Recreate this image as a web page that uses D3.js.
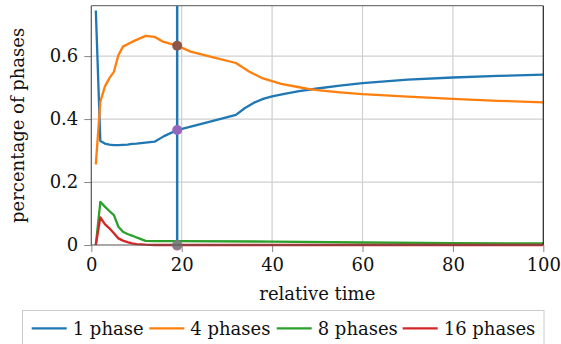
<!DOCTYPE html>
<html>
<head>
<script src="https://d3js.org/d3.v7.min.js"></script>
<meta charset="utf-8">
<style>
body { margin: 0; background: white; }
svg text { font-family: "DejaVu Serif", "Liberation Serif", serif; fill: #111; }
</style>
</head>
<body>
<div id="chart"></div>
<script>

// series
var timeOne = [1,2,3,4,5,6,7,8,9,10,12,14,16,19,22,25,28,32,34,36,38,40,43,46,50,55,60,70,80,90,100];
var valOne  = [0.745,0.33,0.322,0.319,0.317,0.317,0.318,0.319,0.321,0.322,0.325,0.328,0.345,0.365,0.376,0.387,0.398,0.413,0.435,0.452,0.464,0.472,0.481,0.489,0.497,0.506,0.514,0.525,0.532,0.537,0.541];

var timeFour = [1,2,3,4,5,6,7,9,12,14,16,19,22,27,32,35,38,42,46,48,50,55,60,70,80,90,100];
var valFour  = [0.256,0.455,0.503,0.53,0.55,0.603,0.63,0.645,0.664,0.661,0.645,0.633,0.614,0.596,0.578,0.55,0.529,0.512,0.501,0.496,0.492,0.485,0.479,0.471,0.464,0.458,0.453];

var timeEight = [1,2,3,4,5,6,7,8,9,10,12,14,19,40,60,80,100];
var valEight  = [0,0.137,0.122,0.108,0.095,0.058,0.042,0.035,0.03,0.024,0.013,0.012,0.012,0.011,0.008,0.006,0.005];

var timeSixteen = [1,2,3,4,5,6,7,8,9,10,12,14,100];
var valSixteen  = [0,0.088,0.066,0.053,0.037,0.021,0.014,0.009,0.005,0.003,0.001,0,0];

var seriesNames  = ["1 phase", "4 phases", "8 phases", "16 phases"];
var seriesColors = ["#1f77b4", "#ff7f0e", "#2ca02c", "#d62728"];
var markerColors = ["#9467bd", "#8c564b", "#e377c2", "#7f7f7f"];

var cursorTime = 19;
var cursorVals = [0.365, 0.633, -0.002, 0];

var xTicks = [0, 20, 40, 60, 80, 100];
var yTicks = [0, 0.2, 0.4, 0.6];

var width = 561, height = 344;
var plotLeft = 91.3, plotRight = 543.3, plotTop = 5.7, plotBottom = 245;
var fontSize = 18;
var legendX = [31.7, 149.3, 276.7, 402.7];

var svg = d3.select("#chart").append("svg")
  .attr("width", width)
  .attr("height", height);

var x = d3.scaleLinear().domain([0, 100]).range([plotLeft, plotRight]);
var y = d3.scaleLinear().domain([0, 0.76]).range([plotBottom, plotTop]);

// grid
svg.append("g").selectAll("line").data(xTicks.slice(1, -1)).enter().append("line")
  .attr("x1", d => x(d)).attr("x2", d => x(d))
  .attr("y1", plotTop).attr("y2", plotBottom)
  .attr("stroke", "#cfcfcf").attr("stroke-width", 1.2);
svg.append("g").selectAll("line").data(yTicks.slice(1)).enter().append("line")
  .attr("x1", plotLeft).attr("x2", plotRight)
  .attr("y1", d => y(d)).attr("y2", d => y(d))
  .attr("stroke", "#cfcfcf").attr("stroke-width", 1.2);

// axes
var xAxis = d3.axisBottom(x).tickValues(xTicks).tickSize(7).tickPadding(6).tickFormat(d3.format("d"));
var yAxis = d3.axisLeft(y).tickValues(yTicks).tickSize(7).tickPadding(6).tickFormat(d => d === 0 ? "0" : d3.format(".1f")(d));

var gx = svg.append("g").attr("transform", "translate(0," + plotBottom + ")").call(xAxis);
var gy = svg.append("g").attr("transform", "translate(" + plotLeft + ",0)").call(yAxis);
[gx, gy].forEach(function(g) {
  g.attr("font-family", null).attr("font-size", null);
  g.select(".domain").remove();
  g.selectAll(".tick line").attr("stroke", "#888");
  g.selectAll(".tick text").style("font-size", fontSize + "px").attr("fill", "#111");
});

// series
var lineGen = d3.line().x(d => x(d[0])).y(d => y(d[1]));
var allSeries = [
  d3.zip(timeOne, valOne),
  d3.zip(timeFour, valFour),
  d3.zip(timeEight, valEight),
  d3.zip(timeSixteen, valSixteen)
];
svg.append("g").selectAll("path").data(allSeries).enter().append("path")
  .attr("d", lineGen)
  .attr("fill", "none")
  .attr("stroke", (d, i) => seriesColors[i])
  .attr("stroke-width", 2.3)
  .attr("stroke-linejoin", "round");

// cursor line and markers
svg.append("line")
  .attr("x1", x(cursorTime)).attr("x2", x(cursorTime))
  .attr("y1", plotTop).attr("y2", plotBottom)
  .attr("stroke", seriesColors[0]).attr("stroke-width", 2.5);

svg.append("g").selectAll("circle").data(cursorVals).enter().append("circle")
  .attr("cx", x(cursorTime))
  .attr("cy", d => y(d))
  .attr("r", 5)
  .attr("fill", (d, i) => markerColors[i]);

// frame
svg.append("line").attr("x1", plotLeft).attr("x2", plotRight).attr("y1", plotTop).attr("y2", plotTop).attr("stroke", "#777").attr("stroke-width", 1.2);
svg.append("line").attr("x1", plotRight).attr("x2", plotRight).attr("y1", plotTop).attr("y2", plotBottom).attr("stroke", "#222").attr("stroke-width", 1.2);
svg.append("line").attr("x1", plotLeft).attr("x2", plotLeft).attr("y1", plotTop).attr("y2", plotBottom).attr("stroke", "#555").attr("stroke-width", 1.2);
svg.append("line").attr("x1", plotLeft).attr("x2", plotRight).attr("y1", plotBottom).attr("y2", plotBottom).attr("stroke", "#555").attr("stroke-width", 1.2);

// labels
svg.append("text")
  .attr("x", (plotLeft + plotRight) / 2).attr("y", 300)
  .attr("text-anchor", "middle").style("font-size", fontSize + "px")
  .text("relative time");

svg.append("text")
  .attr("transform", "translate(24," + ((plotTop + plotBottom) / 2) + ") rotate(-90)")
  .attr("text-anchor", "middle").style("font-size", fontSize + "px")
  .text("percentage of phases");

// legend
svg.append("rect")
  .attr("x", 22.5).attr("y", 310.5).attr("width", 521.5).attr("height", 40)
  .attr("fill", "white").attr("stroke", "#cccccc").attr("stroke-width", 1);

seriesNames.forEach(function(name, i) {
  svg.append("line")
    .attr("x1", legendX[i]).attr("x2", legendX[i] + 35)
    .attr("y1", 328.3).attr("y2", 328.3)
    .attr("stroke", seriesColors[i]).attr("stroke-width", 2.3);
  svg.append("text")
    .attr("x", legendX[i] + 41).attr("y", 334.5)
    .style("font-size", fontSize + "px")
    .text(name);
});

</script>
</body>
</html>
